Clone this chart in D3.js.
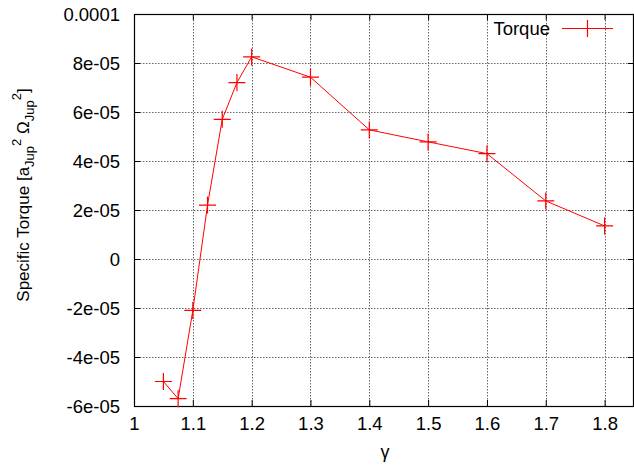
<!DOCTYPE html>
<html>
<head>
<meta charset="utf-8">
<script src="https://cdn.jsdelivr.net/npm/d3@7"></script>
<style>
  body { margin: 0; background: #fff; }
  text { font-family: "Liberation Sans", Arial, sans-serif; }
</style>
</head>
<body>
<div id="chart"></div>
<script>
var w = 634;
var h = 465;

// data
var gammaVals  = [1.05, 1.075, 1.1, 1.125, 1.15, 1.175, 1.2, 1.3, 1.4, 1.5, 1.6, 1.7, 1.8];
var torqueVals = [-5.0e-5, -5.7e-5, -2.1e-5, 2.2e-5, 5.7e-5, 7.2e-5, 8.25e-5, 7.42e-5, 5.27e-5, 4.78e-5, 4.3e-5, 2.37e-5, 1.35e-5];

var xTicks = [1, 1.1, 1.2, 1.3, 1.4, 1.5, 1.6, 1.7, 1.8];
var xTickLabels = ["1", "1.1", "1.2", "1.3", "1.4", "1.5", "1.6", "1.7", "1.8"];
var yTicks = [-6e-5, -4e-5, -2e-5, 0, 2e-5, 4e-5, 6e-5, 8e-5, 1e-4];
var yTickLabels = ["-6e-05", "-4e-05", "-2e-05", "0", "2e-05", "4e-05", "6e-05", "8e-05", "0.0001"];
var seriesName = "Torque";

var pLeft = 134, pRight = 634, pTop = 14, pBottom = 406;
var red = "#ff0000";
var fs = "18.5px";

var svg = d3.select("#chart")
  .append("svg")
  .attr("width", w)
  .attr("height", h);

var x = d3.scaleLinear().domain([1, 1.85]).range([pLeft, pRight]);
var y = d3.scaleLinear().domain([-6e-5, 1e-4]).range([pBottom, pTop]);

// grid
svg.selectAll("line.gx")
  .data(xTicks.slice(1))
  .enter().append("line")
  .attr("x1", function(d){ return Math.round(x(d)) + 0.5; })
  .attr("x2", function(d){ return Math.round(x(d)) + 0.5; })
  .attr("y1", pTop).attr("y2", pBottom)
  .style("stroke", "#666").style("stroke-width", 1).style("stroke-dasharray", "1.5,1.5");

svg.selectAll("line.gy")
  .data(yTicks.slice(1, -1))
  .enter().append("line")
  .attr("y1", function(d){ return Math.round(y(d)) + 0.5; })
  .attr("y2", function(d){ return Math.round(y(d)) + 0.5; })
  .attr("x1", pLeft).attr("x2", pRight)
  .style("stroke", "#666").style("stroke-width", 1).style("stroke-dasharray", "1.5,1.5");

// axes with inward ticks, mirrored
var tl = 6;
var xb = svg.append("g").attr("transform", "translate(0," + pBottom + ")")
  .call(d3.axisBottom(x).tickValues(xTicks).tickSizeInner(-tl).tickSizeOuter(0)
        .tickFormat(function(d, i){ return xTickLabels[i]; }));
xb.select(".domain").remove();
xb.selectAll("text").attr("dy", 0).attr("y", 24).style("font-size", fs).style("fill", "#000");

var xt = svg.append("g").attr("transform", "translate(0," + pTop + ")")
  .call(d3.axisTop(x).tickValues(xTicks).tickSizeInner(-tl).tickSizeOuter(0).tickFormat(""));
xt.select(".domain").remove();

var yl = svg.append("g").attr("transform", "translate(" + pLeft + ",0)")
  .call(d3.axisLeft(y).tickValues(yTicks).tickSizeInner(-tl).tickSizeOuter(0)
        .tickFormat(function(d, i){ return yTickLabels[i]; }));
yl.select(".domain").remove();
yl.selectAll("text").attr("x", -14).attr("dy", "0.35em").style("font-size", fs).style("fill", "#000");

var yr = svg.append("g").attr("transform", "translate(" + pRight + ",0)")
  .call(d3.axisRight(y).tickValues(yTicks).tickSizeInner(-tl).tickSizeOuter(0).tickFormat(""));
yr.select(".domain").remove();

svg.selectAll(".tick line").style("stroke", "#000");

// frame
svg.append("rect")
  .attr("x", pLeft + 0.5).attr("y", pTop + 0.5)
  .attr("width", pRight - pLeft - 1).attr("height", pBottom - pTop)
  .style("fill", "none").style("stroke", "#000").style("stroke-width", 1.2);

// series line
var pts = gammaVals.map(function(g, i){ return [g, torqueVals[i]]; });
svg.append("path")
  .datum(pts)
  .attr("d", d3.line().x(function(d){ return x(d[0]); }).y(function(d){ return y(d[1]); }))
  .style("fill", "none").style("stroke", red).style("stroke-width", 1);

// plus markers
var ms = 8.5;
function plus(cx, cy) {
  return "M" + (cx - ms) + "," + cy + "H" + (cx + ms) + "M" + cx + "," + (cy - ms) + "V" + (cy + ms);
}
svg.selectAll("path.pt")
  .data(pts)
  .enter().append("path")
  .attr("d", function(d){ return plus(x(d[0]), y(d[1])); })
  .style("stroke", red).style("stroke-width", 1.2).style("fill", "none");

// legend
svg.append("text")
  .attr("x", 550).attr("y", 35)
  .attr("text-anchor", "end")
  .style("font-size", fs)
  .text(seriesName);
svg.append("line")
  .attr("x1", 562).attr("x2", 613).attr("y1", 28.5).attr("y2", 28.5)
  .style("stroke", red).style("stroke-width", 1);
svg.append("path")
  .attr("d", plus(587.5, 28.5))
  .style("stroke", red).style("stroke-width", 1.2);

// x label
svg.append("text")
  .attr("x", 385).attr("y", 458)
  .attr("text-anchor", "middle")
  .style("font-size", "18px")
  .text("\u03b3");

// y label with sub/superscripts
var ylab = svg.append("text")
  .attr("transform", "translate(29,195) rotate(-90)")
  .attr("text-anchor", "middle")
  .style("font-size", "17px");
ylab.append("tspan").text("Specific Torque [a");
ylab.append("tspan").attr("dy", 5).style("font-size", "13px").text("Jup");
ylab.append("tspan").attr("dy", -13).style("font-size", "13px").text("2");
ylab.append("tspan").attr("dy", 8).text(" \u03a9");
ylab.append("tspan").attr("dy", 5).style("font-size", "13px").text("Jup");
ylab.append("tspan").attr("dy", -13).style("font-size", "13px").text("2");
ylab.append("tspan").attr("dy", 8).text("]");
</script>
</body>
</html>
